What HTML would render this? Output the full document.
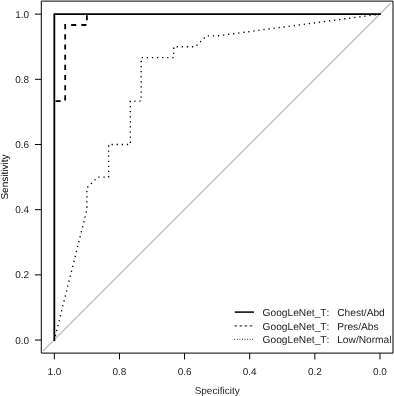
<!DOCTYPE html><html><head><meta charset="utf-8"><style>html,body{margin:0;padding:0;background:#fff;width:394px;height:396px;overflow:hidden}svg{display:block}text{text-rendering:geometricPrecision;font-kerning:none;font-family:"Liberation Sans",Arial,sans-serif;font-size:10px;fill:#1e1e1e}.lg{font-size:10.2px}</style></head><body><svg width="394" height="396" viewBox="0 0 394 396"><rect width="394" height="396" fill="#fff"/><line x1="43.2" y1="350.8" x2="390.8" y2="3.2" stroke="#B4B4B4" stroke-width="1.2"/><rect x="41.3" y="1.1" width="351.70" height="352.00" fill="none" stroke="#000" stroke-width="1" stroke-linejoin="round"/><line x1="34.95" y1="340.06" x2="41.3" y2="340.06" stroke="#000" stroke-width="1"/><text x="29.1" y="343.66" text-anchor="end">0.0</text><line x1="34.95" y1="274.88" x2="41.3" y2="274.88" stroke="#000" stroke-width="1"/><text x="29.1" y="278.48" text-anchor="end">0.2</text><line x1="34.95" y1="209.69" x2="41.3" y2="209.69" stroke="#000" stroke-width="1"/><text x="29.1" y="213.29" text-anchor="end">0.4</text><line x1="34.95" y1="144.51" x2="41.3" y2="144.51" stroke="#000" stroke-width="1"/><text x="29.1" y="148.11" text-anchor="end">0.6</text><line x1="34.95" y1="79.32" x2="41.3" y2="79.32" stroke="#000" stroke-width="1"/><text x="29.1" y="82.92" text-anchor="end">0.8</text><line x1="34.95" y1="14.14" x2="41.3" y2="14.14" stroke="#000" stroke-width="1"/><text x="29.1" y="17.74" text-anchor="end">1.0</text><line x1="379.97" y1="353.1" x2="379.97" y2="359.45" stroke="#000" stroke-width="1"/><text x="379.97" y="375" text-anchor="middle">0.0</text><line x1="314.84" y1="353.1" x2="314.84" y2="359.45" stroke="#000" stroke-width="1"/><text x="314.84" y="375" text-anchor="middle">0.2</text><line x1="249.71" y1="353.1" x2="249.71" y2="359.45" stroke="#000" stroke-width="1"/><text x="249.71" y="375" text-anchor="middle">0.4</text><line x1="184.59" y1="353.1" x2="184.59" y2="359.45" stroke="#000" stroke-width="1"/><text x="184.59" y="375" text-anchor="middle">0.6</text><line x1="119.46" y1="353.1" x2="119.46" y2="359.45" stroke="#000" stroke-width="1"/><text x="119.46" y="375" text-anchor="middle">0.8</text><line x1="54.33" y1="353.1" x2="54.33" y2="359.45" stroke="#000" stroke-width="1"/><text x="54.33" y="375" text-anchor="middle">1.0</text><text x="217.15" y="393.6" text-anchor="middle">Specificity</text><text transform="translate(8.4 177.10) rotate(-90)" text-anchor="middle" style="fill:#000">Sensitivity</text><path d="M54.33 340.06 L54.33 14.14 L379.97 14.14" fill="none" stroke="#000" stroke-width="1.8" stroke-linejoin="miter" stroke-linecap="square"/><path d="M86.89 14.14 L86.89 25.00 L65.18 25.00 L65.18 101.05 L54.33 101.05" fill="none" stroke="#000" stroke-width="1.8" stroke-dasharray="5.09 5.09" stroke-dashoffset="9.043" stroke-linejoin="miter"/><path d="M379.97 14.14 L217.15 35.87 L206.30 35.87 L195.44 46.73 L173.73 46.73 L173.73 57.59 L141.17 57.59 L141.17 101.05 L130.31 101.05 L130.31 144.51 L108.60 144.51 L108.60 177.10 L97.75 177.10 L86.89 187.96 L86.89 209.69 L54.33 340.06" fill="none" stroke="#000" stroke-width="1.35" stroke-dasharray="1.2725 3.8175" stroke-dashoffset="0.72" stroke-linejoin="miter"/><line x1="234.8" y1="312.1" x2="254.0" y2="312.1" stroke="#000" stroke-width="1.5"/><text class="lg" x="262.6" y="315.90">GoogLeNet_T:</text><text class="lg" x="337.2" y="315.90">Chest/Abd</text><line x1="234.5" y1="325.9" x2="254.0" y2="325.9" stroke="#444" stroke-width="1.4" stroke-dasharray="2.546 2.546"/><text class="lg" x="262.6" y="329.70">GoogLeNet_T:</text><text class="lg" x="337.2" y="329.70">Pres/Abs</text><line x1="234.5" y1="339.4" x2="254.0" y2="339.4" stroke="#000" stroke-width="1.2" stroke-dasharray="0.636 1.91"/><text class="lg" x="262.6" y="343.20">GoogLeNet_T:</text><text class="lg" x="337.2" y="343.20">Low/Normal</text></svg></body></html>
